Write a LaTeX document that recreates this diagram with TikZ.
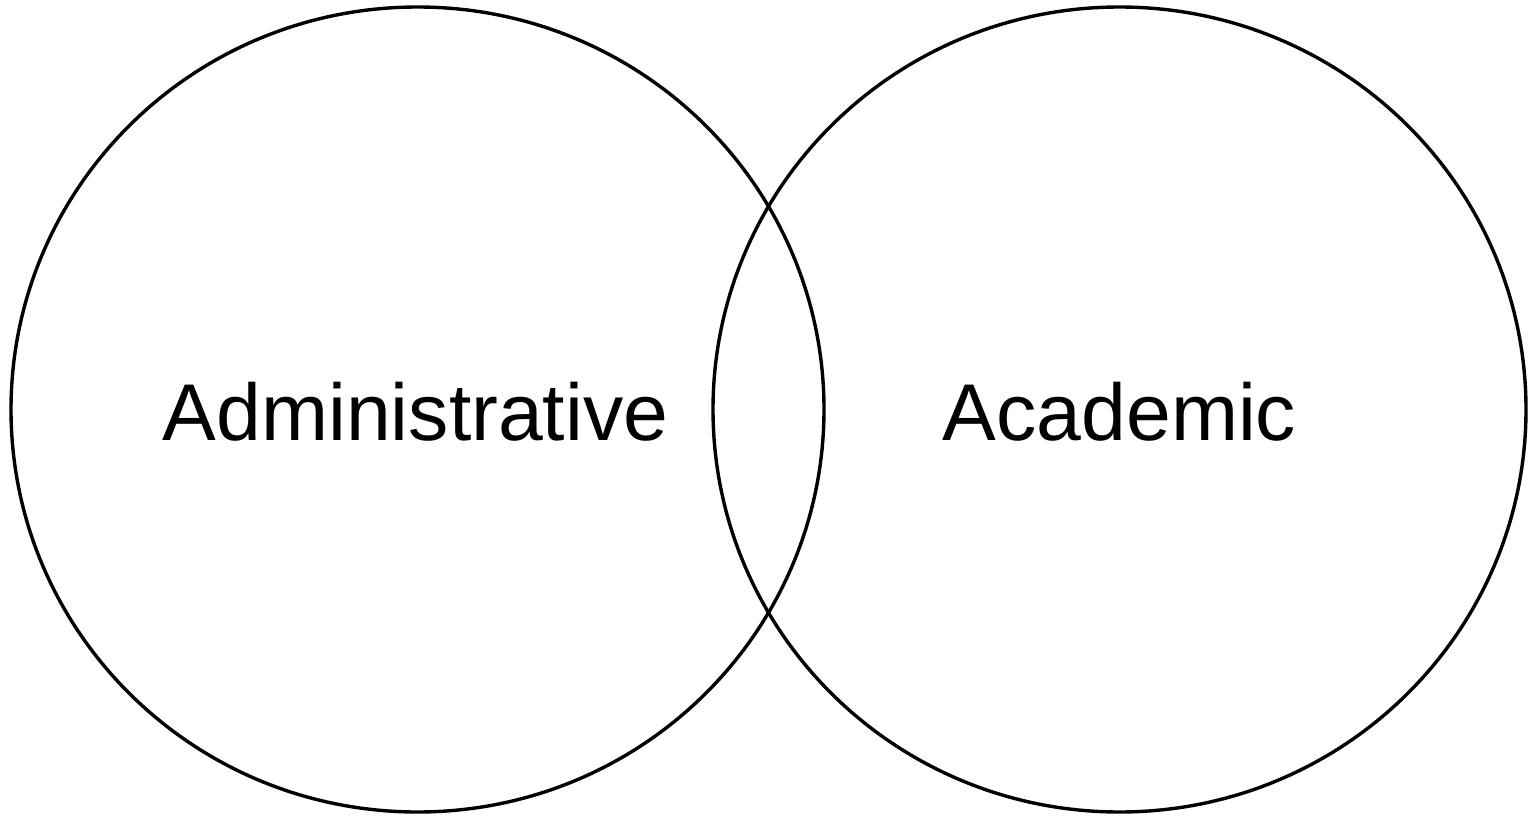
\documentclass[tikz,border=0pt]{standalone}
\usepackage{fontspec}
\setmainfont{Liberation Sans}
\usetikzlibrary{shapes.geometric}
\begin{document}
\begin{tikzpicture}[x=1pt,y=-1pt,
  setring/.style={draw=black,line width=3.4pt,ellipse,inner sep=0pt,minimum width=813pt,minimum height=805pt},
  setlabel/.style={anchor=base,inner sep=0pt,font=\fontsize{80.5}{96}\selectfont}]
\useasboundingbox (0,0) rectangle (1530,816);
\node[setring] (adm) at (417.5,409.5) {};
\node[setring] (aca) at (1119.5,409.5) {};
\node[setlabel] (admtext) at (415.5,440) {Administrative};
\node[setlabel] (acatext) at (1119.5,440) {Academic};
\end{tikzpicture}
\end{document}
